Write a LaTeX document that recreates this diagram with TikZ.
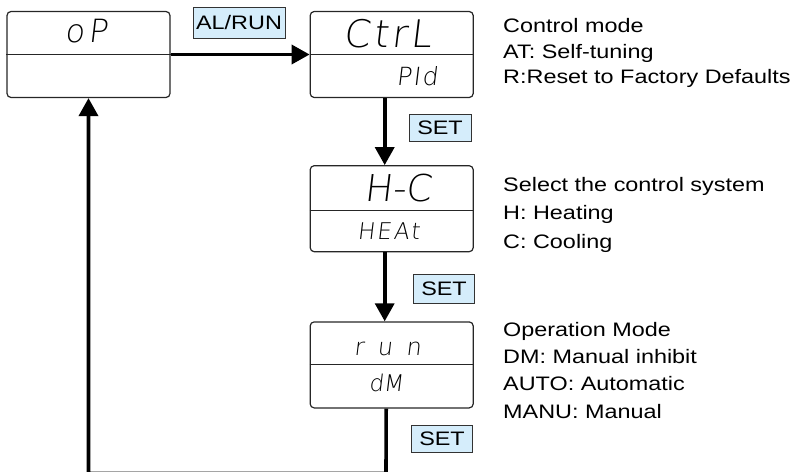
\documentclass[tikz,border=0pt]{standalone}
\usepackage{fontspec}
\setmainfont{Liberation Sans}[FakeStretch=1.2]
\newfontfamily\segfont{DejaVu Sans ExtraLight}[FakeSlant=0.12]
\usetikzlibrary{positioning,arrows.meta}
\definecolor{keyblue}{HTML}{D5EDFB}
\tikzset{
	display/.style={draw=black!85, line width=1.2pt, rounded corners=4pt, minimum width=163pt, minimum height=86pt, inner sep=0pt}, % the LCD window
	divider/.style={draw=black!85, line width=1.1pt},
	key/.style={draw=black!80, line width=1pt, fill=keyblue, minimum height=27pt, inner sep=0pt, font=\fontsize{19.5}{19.5}\selectfont},
	note/.style={anchor=base west, inner sep=0pt, font=\fontsize{19.5}{19.5}\selectfont},
	flow/.style={line width=3.6pt, -{Triangle[length=18pt,width=19pt]}},
	seg/.style={inner sep=0pt}
}
\begin{document}
\begin{tikzpicture}[x=1pt,y=-1pt,node distance=67pt]
            \useasboundingbox (0,0) rectangle (794,471);
            \node[display] (oP) at (88.5,54.5) {};
            \node[display] (CtrL) [right=139pt of oP] {};
            \node[display] (HC) [below=of CtrL] {};
            \node[display] (run) [below=69pt of HC] {};
            \draw[divider] (oP.west) -- (oP.east);
            \draw[divider] (CtrL.west) -- (CtrL.east);
            \draw[divider] ([yshift=-2pt]HC.west) -- ([yshift=-2pt]HC.east);
            \draw[divider] (run.west) -- (run.east);
            % display readings
            \node[seg, font={\segfont\fontsize{32}{32}\selectfont\addfontfeature{LetterSpace=12}}] (oPtop) at (86,31.5) {oP};
            \node[seg, font={\segfont\fontsize{38}{38}\selectfont\addfontfeature{LetterSpace=9}}] (CtrLtop) at (387.5,34) {CtrL};
            \node[seg, font={\segfont\fontsize{25}{25}\selectfont\addfontfeature{LetterSpace=6}}] (CtrLbot) at (417,76) {PId};
            \node[seg, font={\segfont\fontsize{37}{37}\selectfont}] (HCtop) at (398,188.5) {H-C};
            \node[seg, font={\segfont\fontsize{23}{23}\selectfont\addfontfeature{LetterSpace=9}}] (HCbot) at (388.5,231.5) {HEAt};
            \node[seg, font={\segfont\fontsize{24}{24}\selectfont\addfontfeature{LetterSpace=56}}] (runtop) at (387.5,348.5) {run};
            \node[seg, font={\segfont\fontsize{23}{23}\selectfont}] (runbot) at (386,383) {dM};
            % keys
            \node[key, minimum width=92pt, minimum height=31pt] (alrun) at (239,22.5) {AL/RUN};
            \node[key, minimum width=62pt] (set1) at (440,127.5) {SET};
            \node[key, minimum width=61pt, minimum height=29pt] (set2) at (444,289) {SET};
            \node[key, minimum width=61pt] (set3) at (442,439) {SET};
            % notes
            \node[note] (ctrl1) at (503,32) {Control mode};
            \node[note] (ctrl2) at (503,58) {AT: Self-tuning};
            \node[note] (ctrl3) at (503,83) {R:Reset to Factory Defaults};
            \node[note] (hc1) at (503,191) {Select the control system};
            \node[note] (hc2) at (503,219) {H: Heating};
            \node[note] (hc3) at (503,248) {C: Cooling};
            \node[note] (run1) at (503,336) {Operation Mode};
            \node[note] (run2) at (503,363) {DM: Manual inhibit};
            \node[note] (run3) at (503,390) {AUTO: Automatic};
            \node[note] (run4) at (503,418) {MANU: Manual};
            % flow
            \coordinate (loopR) at (386,473.5);
            \coordinate (loopL) at (88.5,473.5);
            \draw[flow] (oP) -- (CtrL);
            \draw[flow] ([xshift=-7pt]CtrL.south) -- ([xshift=-7pt]HC.north);
            \draw[flow] ([xshift=-7pt]HC.south) -- ([xshift=-7pt]run.north);
            \draw[flow] ([xshift=-5.5pt]run.south) -- (loopR) -- (loopL) -- (oP.south);
\end{tikzpicture}
\end{document}
